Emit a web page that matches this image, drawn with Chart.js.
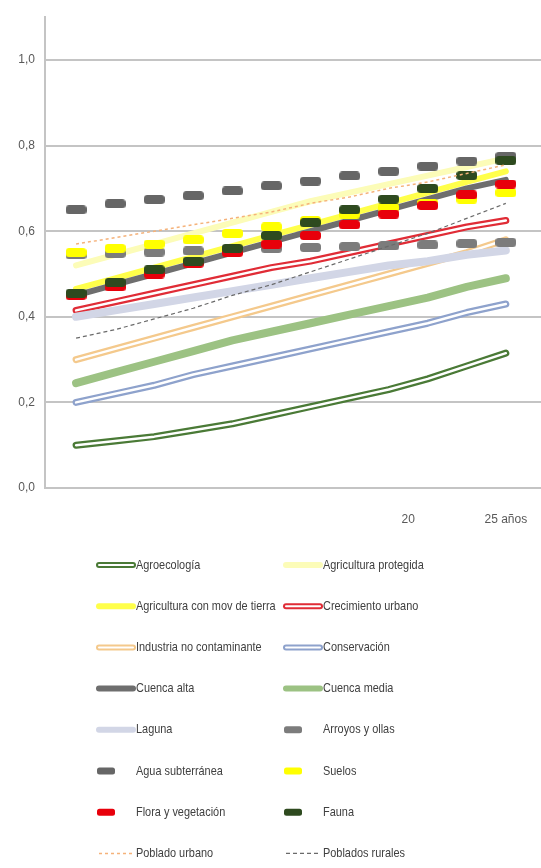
<!DOCTYPE html>
<html>
<head>
<meta charset="utf-8">
<script src="https://cdn.jsdelivr.net/npm/chart.js@4.4.0/dist/chart.umd.min.js"></script>
<style>
    html, body { margin: 0; padding: 0; background: #fff; }
    #wrap { width: 541px; height: 868px; position: relative; }
</style>
</head>
<body>
<div id="wrap"><canvas id="chart"></canvas></div>
<script>
// x positions (years) and tick labels
const years = [3, 5, 7, 9, 11, 13, 15, 17, 19, 21, 23, 25];
const xTicks = [20, 25];
const xTickLabels = ['20', '25 años'];
const yTicks = [0, 0.2, 0.4, 0.6, 0.8, 1.0];

// series values
const agroecologia      = [0.10, 0.11, 0.12, 0.135, 0.15, 0.17, 0.19, 0.21, 0.23, 0.255, 0.285, 0.315];
const agriProtegida     = [0.52, 0.545, 0.57, 0.595, 0.62, 0.645, 0.67, 0.69, 0.71, 0.73, 0.75, 0.77];
const agriMovTierra     = [0.465, 0.49, 0.515, 0.54, 0.565, 0.59, 0.615, 0.64, 0.665, 0.69, 0.715, 0.74];
const crecimientoUrbano = [0.415, 0.435, 0.455, 0.475, 0.495, 0.515, 0.53, 0.55, 0.57, 0.59, 0.61, 0.625];
const industria         = [0.30, 0.325, 0.35, 0.375, 0.40, 0.425, 0.45, 0.475, 0.50, 0.525, 0.55, 0.58];
const conservacion      = [0.20, 0.22, 0.24, 0.265, 0.285, 0.305, 0.325, 0.345, 0.365, 0.385, 0.41, 0.43];
const cuencaAlta        = [0.45, 0.475, 0.50, 0.525, 0.55, 0.575, 0.60, 0.625, 0.65, 0.675, 0.70, 0.72];
const cuencaMedia       = [0.245, 0.27, 0.295, 0.32, 0.345, 0.365, 0.385, 0.405, 0.425, 0.445, 0.47, 0.49];
const laguna            = [0.40, 0.415, 0.43, 0.445, 0.46, 0.475, 0.49, 0.505, 0.52, 0.53, 0.545, 0.555];
const arroyos           = [0.545, 0.548, 0.551, 0.554, 0.557, 0.56, 0.562, 0.564, 0.566, 0.568, 0.571, 0.574];
const aguaSubterranea   = [0.65, 0.664, 0.674, 0.683, 0.694, 0.706, 0.717, 0.729, 0.74, 0.752, 0.764, 0.775];
const suelos            = [0.55, 0.56, 0.57, 0.58, 0.595, 0.61, 0.625, 0.64, 0.655, 0.665, 0.675, 0.69];
const flora             = [0.45, 0.47, 0.50, 0.525, 0.55, 0.57, 0.59, 0.615, 0.64, 0.66, 0.685, 0.71];
const fauna             = [0.455, 0.48, 0.51, 0.53, 0.56, 0.59, 0.62, 0.65, 0.675, 0.70, 0.73, 0.765];
const pobladoUrbano     = [0.57, 0.585, 0.60, 0.615, 0.63, 0.645, 0.665, 0.68, 0.70, 0.715, 0.735, 0.755];
const pobladosRurales   = [0.35, 0.37, 0.395, 0.42, 0.45, 0.475, 0.505, 0.535, 0.565, 0.595, 0.63, 0.665];

const FONT = "'Liberation Sans', 'DejaVu Sans', sans-serif";
Chart.defaults.font.family = FONT;

function toPoints(values) {
    return values.map((v, i) => ({ x: years[i], y: v }));
}

// small rounded dash used as marker
function makeDash(color) {
    const c = document.createElement('canvas');
    c.width = 21; c.height = 9;
    const ctx = c.getContext('2d');
    ctx.fillStyle = color;
    ctx.beginPath();
    ctx.roundRect(0, 0, 21, 9, 3.5);
    ctx.fill();
    return c;
}

function lineSeries(label, values, color, width, extra) {
    return Object.assign({
        label: label,
        data: toPoints(values),
        borderColor: color,
        backgroundColor: color,
        borderWidth: width,
        pointRadius: 0,
        tension: 0,
        borderCapStyle: 'round',
        borderJoinStyle: 'round',
        kind: 'line'
    }, extra || {});
}

function markerSeries(label, values, color) {
    return {
        label: label,
        data: toPoints(values),
        borderColor: color,
        backgroundColor: color,
        showLine: false,
        pointStyle: makeDash(color),
        pointRadius: 5,
        kind: 'marker'
    };
}

const datasets = [
    lineSeries('Agroecología', agroecologia, '#4a7a36', 7, { inner: true }),
    lineSeries('Agricultura protegida', agriProtegida, '#fcfcb8', 6),
    lineSeries('Agricultura con mov de tierra', agriMovTierra, '#ffff4a', 6),
    lineSeries('Crecimiento urbano', crecimientoUrbano, '#e02c36', 7, { inner: true }),
    lineSeries('Industria no contaminante', industria, '#f4c98c', 7, { inner: true }),
    lineSeries('Conservación', conservacion, '#8ea2cc', 7, { inner: true }),
    lineSeries('Cuenca alta', cuencaAlta, '#6e6e6e', 6),
    lineSeries('Cuenca media', cuencaMedia, '#9cc283', 8),
    lineSeries('Laguna', laguna, '#d2d6e6', 8),
    markerSeries('Arroyos y ollas', arroyos, '#7c7c7c'),
    markerSeries('Agua subterránea', aguaSubterranea, '#666666'),
    markerSeries('Suelos', suelos, '#ffff00'),
    markerSeries('Flora y vegetación', flora, '#e8000b'),
    markerSeries('Fauna', fauna, '#2e4a1f'),
    lineSeries('Poblado urbano', pobladoUrbano, '#f5b27a', 1.5, { borderDash: [3, 3], borderCapStyle: 'butt' }),
    lineSeries('Poblados rurales', pobladosRurales, '#6a6a6a', 1.2, { borderDash: [4, 3], borderCapStyle: 'butt' })
];
// later series drawn on top, like the original
datasets.forEach((d, i) => { d.order = datasets.length - 1 - i; });

// white centre stripe for the double lines
const innerLinePlugin = {
    id: 'innerLine',
    afterDatasetDraw(chart, args) {
        const ds = chart.data.datasets[args.index];
        if (!ds.inner) return;
        const pts = args.meta.data;
        const ctx = chart.ctx;
        ctx.save();
        ctx.strokeStyle = '#ffffff';
        ctx.lineWidth = 2.5;
        ctx.lineCap = 'round';
        ctx.lineJoin = 'round';
        ctx.beginPath();
        pts.forEach((p, i) => { if (i === 0) ctx.moveTo(p.x, p.y); else ctx.lineTo(p.x, p.y); });
        ctx.stroke();
        ctx.restore();
    }
};

// two-column legend under the plot
const legendPlugin = {
    id: 'gridLegend',
    afterDraw(chart) {
        const ctx = chart.ctx;
        const symX = [97, 284];
        const textX = [136, 323];
        const top = 565, rowH = 41.2;
        ctx.save();
        ctx.font = '13px ' + FONT;
        ctx.textBaseline = 'middle';
        chart.data.datasets.forEach((ds, i) => {
            const col = i % 2, row = Math.floor(i / 2);
            const y = top + row * rowH;
            const x = symX[col];
            if (ds.kind === 'marker') {
                ctx.fillStyle = ds.backgroundColor;
                ctx.beginPath();
                ctx.roundRect(x, y - 3.5, 18, 7, 2.5);
                ctx.fill();
            } else {
                ctx.strokeStyle = ds.borderColor;
                ctx.lineWidth = Math.min(ds.borderWidth, 6);
                ctx.lineCap = ds.borderDash ? 'butt' : 'round';
                ctx.setLineDash(ds.borderDash || []);
                ctx.beginPath();
                ctx.moveTo(x + 2, y);
                ctx.lineTo(x + 36, y);
                ctx.stroke();
                ctx.setLineDash([]);
                if (ds.inner) {
                    ctx.strokeStyle = '#ffffff';
                    ctx.lineWidth = 2;
                    ctx.beginPath();
                    ctx.moveTo(x + 2, y);
                    ctx.lineTo(x + 36, y);
                    ctx.stroke();
                }
            }
            // narrow lettering, as in the original
            ctx.save();
            ctx.translate(textX[col], y);
            ctx.scale(0.84, 1);
            ctx.fillStyle = '#404040';
            ctx.fillText(ds.label, 0, 0);
            ctx.restore();
        });
        ctx.restore();
    }
};

new Chart(document.getElementById('chart').getContext('2d'), {
    type: 'line',
    data: { datasets: datasets },
    plugins: [innerLinePlugin, legendPlugin],
    options: {
        responsive: true,
        maintainAspectRatio: false,
        animation: false,
        layout: { autoPadding: false, padding: { top: 13, right: 0, bottom: 320, left: 0 } },
        plugins: {
            legend: { display: false },
            tooltip: { enabled: false }
        },
        scales: {
            x: {
                type: 'linear',
                min: 1.41,
                max: 26.8,
                clip: false,
                grid: { display: false },
                border: { display: false },
                afterFit(scale) {
                    scale.height = 60;
                    scale.paddingLeft = 0;
                    scale.paddingRight = 0;
                },
                afterBuildTicks(scale) { scale.ticks = xTicks.map(v => ({ value: v })); },
                ticks: {
                    padding: 16,
                    color: '#595959',
                    font: { size: 12 },
                    maxRotation: 0,
                    autoSkip: false,
                    callback: (v) => xTickLabels[xTicks.indexOf(v)]
                }
            },
            y: {
                min: 0,
                max: 1.1,
                afterFit(scale) { scale.width = 45; },
                afterBuildTicks(scale) { scale.ticks = yTicks.map(v => ({ value: v })); },
                grid: { color: '#c4c4c4', lineWidth: 2, drawTicks: false },
                border: { display: true, color: '#c4c4c4', width: 2 },
                ticks: {
                    padding: 10,
                    color: '#595959',
                    font: { size: 12 },
                    callback: (v) => v.toFixed(1).replace('.', ',')
                }
            }
        }
    }
});
</script>
</body>
</html>
